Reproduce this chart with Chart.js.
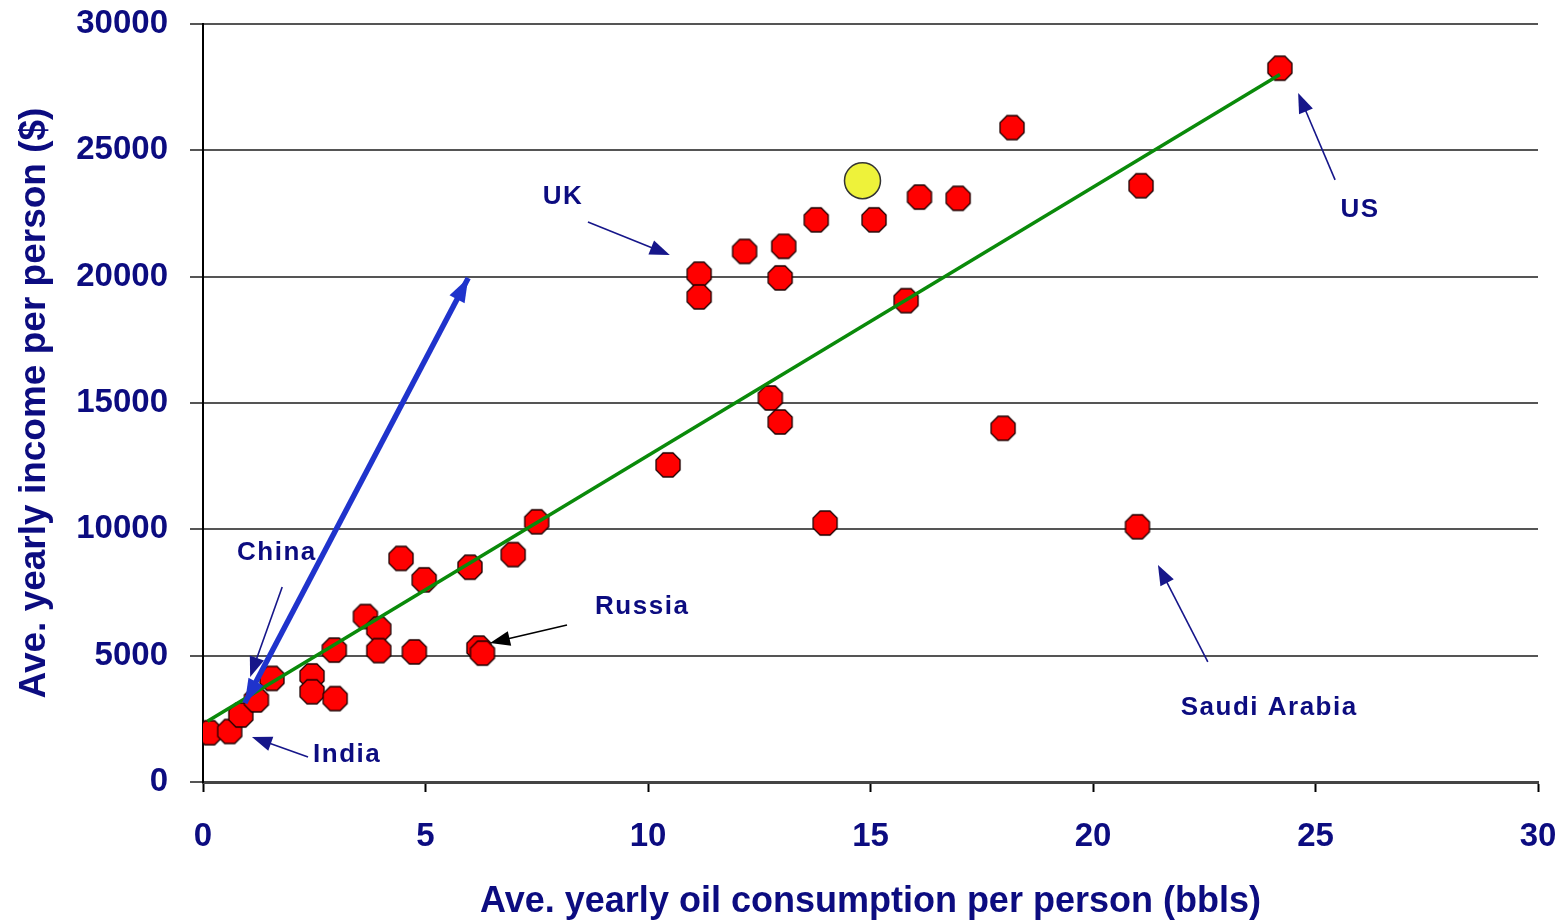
<!DOCTYPE html>
<html>
<head>
<meta charset="utf-8">
<script src="https://cdn.jsdelivr.net/npm/chart.js@4/dist/chart.umd.min.js"></script>
<style>
  html, body { margin: 0; padding: 0; background: #ffffff; }
  #wrap { width: 1568px; height: 924px; }
</style>
</head>
<body>
<div id="wrap"><canvas id="c" width="1568" height="924"></canvas></div>
<script>
// ---- data ----
const oilX = [0.15,0.6,0.85,1.2,1.55,2.45,2.45,2.97,2.95,3.65,3.95,3.95,4.75,4.45,4.97,6.0,6.97,7.5,6.2,6.28,10.45,11.15,11.15,12.17,13.05,12.97,13.78,15.08,16.1,16.97,15.8,12.75,12.97,17.98,13.98,18.18,21.0,21.08,24.2];
const incomeY = [1950,2000,2650,3250,4100,4200,3570,3300,5220,6550,6050,5200,5150,8850,8000,8500,9000,10300,5300,5100,12550,20100,19200,21000,21200,19950,22250,22250,23150,23100,19050,15200,14250,14000,10250,25900,10100,23600,28250];
const highlightX = [14.82];
const highlightY = [23800];
const trendX = [0.1, 24.2];
const trendY = [2400, 28000];
const blueArrowX = [0.94, 5.96];
const blueArrowY = [3130, 19950];
const xTicks = [0,5,10,15,20,25,30];
const yTicks = [0,5000,10000,15000,20000,25000,30000];
const labelTexts = ['UK','US','Saudi Arabia','China','India','Russia'];
const labelX = [8.09, 26.0, 23.96, 1.66, 3.24, 9.87];
const labelY = [23150, 22640, 2930, 9060, 1070, 6930];
const arrowFromX = [8.65, 25.44, 22.58, 1.78, 2.36, 8.18];
const arrowFromY = [22165, 23830, 4750, 7720, 990, 6210];
const arrowToX = [10.49, 24.61, 21.46, 1.06, 1.10, 6.45];
const arrowToY = [20860, 27270, 8590, 4160, 1780, 5500];
const arrowIsBlack = [false,false,false,false,false,true];

// ---- styles ----
const NAVY = '#0c0c80';
const FONT = "'Liberation Sans', Arial, sans-serif";

function makeOctagon(r, fill, stroke) {
  const s = Math.ceil(r * 2 + 4);
  const cv = document.createElement('canvas');
  cv.width = s; cv.height = s;
  const g = cv.getContext('2d');
  const c = s / 2;
  g.beginPath();
  for (let i = 0; i < 8; i++) {
    const a = Math.PI / 8 + i * Math.PI / 4;
    const px = c + r * Math.cos(a), py = c + r * Math.sin(a);
    if (i === 0) g.moveTo(px, py); else g.lineTo(px, py);
  }
  g.closePath();
  g.fillStyle = fill; g.fill();
  g.lineWidth = 1.3; g.strokeStyle = stroke; g.stroke();
  return cv;
}
const octagon = makeOctagon(13, '#ff0000', '#1a0000');

function arrowHead(ctx, x1, y1, x2, y2, len, wid, color) {
  const ang = Math.atan2(y2 - y1, x2 - x1);
  ctx.save();
  ctx.translate(x2, y2);
  ctx.rotate(ang);
  ctx.beginPath();
  ctx.moveTo(0, 0);
  ctx.lineTo(-len, wid / 2);
  ctx.lineTo(-len, -wid / 2);
  ctx.closePath();
  ctx.fillStyle = color;
  ctx.fill();
  ctx.restore();
}

const annotPlugin = {
  id: 'annot',
  afterDatasetsDraw(chart) {
    const ctx = chart.ctx;
    const xs = chart.scales.x, ys = chart.scales.y;
    // blue double arrow heads
    const bx1 = xs.getPixelForValue(blueArrowX[0]), by1 = ys.getPixelForValue(blueArrowY[0]);
    const bx2 = xs.getPixelForValue(blueArrowX[1]), by2 = ys.getPixelForValue(blueArrowY[1]);
    arrowHead(ctx, bx1, by1, bx2, by2, 24, 17, '#1f33cc');
    arrowHead(ctx, bx2, by2, bx1, by1, 24, 17, '#1f33cc');
    // thin annotation arrows
    for (let i = 0; i < labelTexts.length; i++) {
      const col = arrowIsBlack[i] ? '#000000' : '#16168a';
      const x1 = xs.getPixelForValue(arrowFromX[i]), y1 = ys.getPixelForValue(arrowFromY[i]);
      const x2 = xs.getPixelForValue(arrowToX[i]), y2 = ys.getPixelForValue(arrowToY[i]);
      const ang = Math.atan2(y2 - y1, x2 - x1);
      ctx.save();
      ctx.strokeStyle = col;
      ctx.lineWidth = 1.6;
      ctx.beginPath();
      ctx.moveTo(x1, y1);
      ctx.lineTo(x2 - Math.cos(ang) * 12, y2 - Math.sin(ang) * 12);
      ctx.stroke();
      ctx.restore();
      arrowHead(ctx, x1, y1, x2, y2, 20, 15, col);
    }
    // labels
    ctx.save();
    ctx.font = "bold 26px " + FONT;
    try { ctx.letterSpacing = '1.5px'; } catch (e) {}
    ctx.fillStyle = NAVY;
    ctx.textAlign = 'center';
    ctx.textBaseline = 'middle';
    for (let i = 0; i < labelTexts.length; i++) {
      ctx.fillText(labelTexts[i], xs.getPixelForValue(labelX[i]), ys.getPixelForValue(labelY[i]));
    }
    ctx.restore();
  }
};

const toPts = (xa, ya) => xa.map((v, i) => ({x: v, y: ya[i]}));

new Chart(document.getElementById('c'), {
  type: 'scatter',
  data: {
    datasets: [
      {
        label: 'Trend',
        type: 'line',
        data: toPts(trendX, trendY),
        borderColor: '#0a8a0a',
        borderWidth: 3.5,
        pointRadius: 0,
        fill: false,
        order: 1
      },
      {
        label: 'Arrow',
        type: 'line',
        data: toPts(blueArrowX, blueArrowY),
        borderColor: '#1f33cc',
        borderWidth: 5.5,
        pointRadius: 0,
        fill: false,
        order: 0
      },
      {
        label: 'Highlight',
        data: toPts(highlightX, highlightY),
        pointStyle: 'circle',
        pointRadius: 18,
        pointBackgroundColor: '#eef23a',
        pointBorderColor: '#333333',
        pointBorderWidth: 1.5,
        order: 2
      },
      {
        label: 'Countries',
        data: toPts(oilX, incomeY),
        pointStyle: octagon,
        pointRadius: 13,
        order: 3
      }
    ]
  },
  options: {
    responsive: false,
    animation: false,
    events: [],
    layout: { padding: { left: 0, right: 30, top: 24, bottom: 0 } },
    plugins: {
      legend: { display: false },
      tooltip: { enabled: false }
    },
    scales: {
      x: {
        type: 'linear',
        min: 0, max: 30,
        afterBuildTicks(s) { s.ticks = xTicks.map(v => ({value: v})); },
        afterFit(s) { s.height = 142; s.paddingLeft = 0; s.paddingRight = 0; },
        border: { display: true, color: '#444444', width: 3 },
        grid: { drawOnChartArea: false, drawTicks: true, tickLength: 10, tickColor: '#000000', tickWidth: 2 },
        ticks: {
          padding: 25,
          color: NAVY,
          font: { family: FONT, size: 33, weight: 'bold' },
          callback: v => String(v),
          maxRotation: 0
        },
        title: {
          display: true,
          text: 'Ave. yearly oil consumption per person (bbls)',
          color: NAVY,
          font: { family: FONT, size: 36, weight: 'bold' },
          padding: { top: 0, bottom: 0 }
        }
      },
      y: {
        type: 'linear',
        min: 0, max: 30000,
        afterBuildTicks(s) { s.ticks = yTicks.map(v => ({value: v})); },
        afterFit(s) { s.width = 203; s.paddingTop = 0; s.paddingBottom = 0; },
        border: { display: true, color: '#000000', width: 2 },
        grid: { color: '#555555', lineWidth: 2, drawTicks: true, tickLength: 13, tickColor: '#555555' },
        ticks: {
          padding: 22,
          color: NAVY,
          font: { family: FONT, size: 33, weight: 'bold' },
          callback: v => String(v)
        },
        title: {
          display: true,
          text: 'Ave. yearly income per person ($)',
          color: NAVY,
          font: { family: FONT, size: 37, weight: 'bold' },
          padding: { top: 13, bottom: 0 }
        }
      }
    }
  },
  plugins: [annotPlugin]
});
</script>
</body>
</html>
